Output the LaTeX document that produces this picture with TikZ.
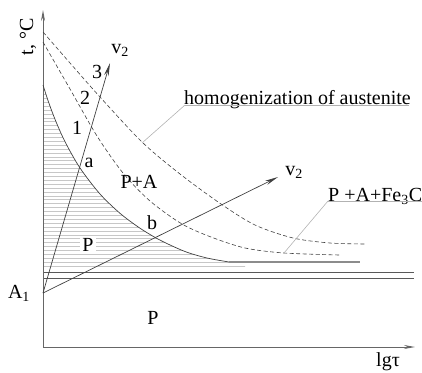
\documentclass[tikz,border=0pt]{standalone}
\usepackage{fontspec}
\setmainfont{Liberation Serif}
\usetikzlibrary{arrows.meta}
\begin{document}
\begin{tikzpicture}[x=1pt,y=-1pt,
  lbl/.style={font=\fontsize{20}{23}\selectfont, inner sep=1pt},
  axis/.style={draw=black!60, line width=0.9pt, -{Stealth[length=11pt,width=4pt]}},
  curve/.style={draw=black!75, line width=0.7pt},
  dcurve/.style={draw=black!75, line width=0.6pt, dash pattern=on 4pt off 2.5pt},
  hatch/.style={draw=black!22, line width=0.6pt},
  leader/.style={draw=black!30, line width=0.6pt},
  vel/.style={draw=black!75, line width=0.7pt, -{Stealth[length=13pt,width=4.5pt]}},
  hline/.style={draw=black!65, line width=0.8pt}]
\useasboundingbox (0,0) rectangle (422,372);

% coordinates
\coordinate (O) at (43,347);
\coordinate (ytip) at (43,10);
\coordinate (xtip) at (415,347);
\coordinate (A1) at (43,293);
\coordinate (v1tip) at (110,63);
\coordinate (v2tip) at (278,177);

\def\solidpts{(43,85) (48,100.5) (55,119.3) (65,141.7) (80,168) (100,194) (120,213.3) (140,228.2) (160,240.1) (185,251.5) (207,258) (229,262)}

% hatching below the solid curve
\begin{scope}
  \clip (43,85) plot[smooth] coordinates {\solidpts}
        -- (245,262) -- (245,268) -- (43,268) -- cycle;
  \foreach \yy in {266,262.1,...,86} { \draw[hatch] (43,\yy) -- (250,\yy); }
\end{scope}

% horizontal double lines
\coordinate (h1a) at (43,272); \coordinate (h1b) at (414,272);
\coordinate (h2a) at (43,278); \coordinate (h2b) at (414,278);
\draw[hline] (h1a) -- (h1b);
\draw[hline] (h2a) -- (h2b);

% axes
\draw[axis] (O) -- (ytip);
\draw[axis] (O) -- (xtip);

% solid curve
\draw[curve] plot[smooth] coordinates {\solidpts};
\coordinate (s1) at (229,262); \coordinate (s2) at (360,262);
\draw[draw=black!45, line width=1.3pt] (s1) -- (s2);

% dashed curves
\draw[dcurve] plot[smooth] coordinates {(43,42) (70,89) (97,136) (123,173) (150,201) (182,224) (211,237) (245,248) (284,253) (339,255)};
\draw[dcurve] plot[smooth] coordinates {(43,32) (70,63) (100,97) (142,142) (180,174) (221,204) (255,225) (293,238) (330,243) (366,244)};

% velocity arrows
\draw[vel] (A1) -- (v1tip);
\draw[vel] (A1) -- (v2tip);

% labels
\node[lbl] (n3) at (97,72) {3};
\node[lbl] (n2) at (85,98) {2};
\node[lbl] (n1) at (77,128) {1};
\node[lbl] (na) at (89,163) {a};
\node[lbl] (npa) at (139,182) {P+A};
\node[lbl] (nb) at (152,223) {b};
\node[lbl, fill=white, inner sep=2pt] (np1) at (88,245) {P};
\node[lbl] (np2) at (153,318) {P};
\node[lbl] (nA1) at (19,293) {A\textsubscript{1}};
\node[lbl] (nv1) at (120,50) {v\textsubscript{2}};
\node[lbl] (nv2) at (294,172) {v\textsubscript{2}};
\node[lbl] (nlg) at (388,362) {lgτ};
\node[lbl, rotate=90] (nt) at (28,37) {t, °C};

% leaders
\node[lbl, anchor=south west, inner sep=0pt, yshift=-4pt] (hom) at (184,105) {homogenization of austenite};
\coordinate (hu1) at (185,105); \coordinate (hu2) at (409,105);
\coordinate (hc) at (142,143);
\draw[leader] (hu1) -- (hu2);
\draw[leader] (hc) -- (hu1);

\node[lbl, anchor=south west, inner sep=0pt, yshift=-4pt] (pafe) at (328,201) {P +A+Fe\textsubscript{3}C};
\coordinate (pu1) at (328,201); \coordinate (pu2) at (422,201);
\coordinate (pc) at (284,253);
\draw[leader] (pu1) -- (pu2);
\draw[leader] (pc) -- (pu1);
\end{tikzpicture}
\end{document}
